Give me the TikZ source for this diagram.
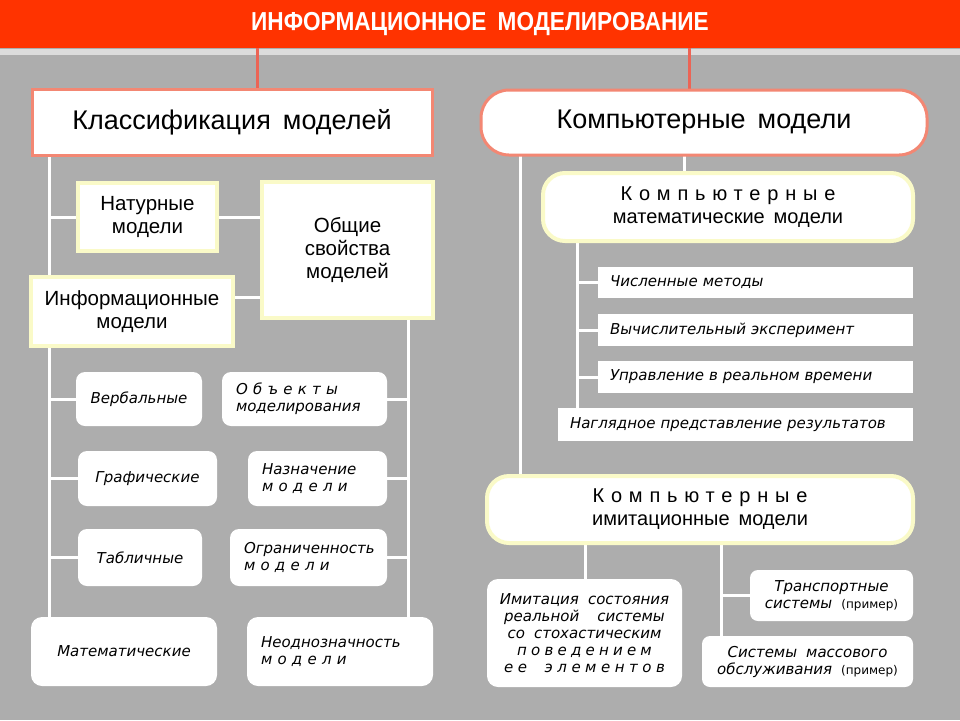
\documentclass[tikz,border=0pt]{standalone}
\usepackage{fontspec}
\setmainfont{Liberation Sans}[WordSpace=1.6]
\newfontfamily\gothic{DejaVu Sans}[WordSpace=1.9]
\newfontfamily\titlefont{Liberation Sans}[FakeStretch=0.87, WordSpace=1.8]
\usepackage{tikz}
\usetikzlibrary{positioning,backgrounds}
\definecolor{bggray}{RGB}{173,173,173}
\definecolor{bandred}{RGB}{255,51,0}
\definecolor{stripgray}{RGB}{220,220,220}
\definecolor{salmon}{RGB}{243,135,115}
\definecolor{redline}{RGB}{236,100,85}
\definecolor{cream}{RGB}{250,250,200}
\newcommand{\spaced}[2][35]{{\addfontfeature{LetterSpace=#1}#2}}
\newcommand{\ital}{\gothic\itshape\fontsize{15}{17}\selectfont}
\newcommand{\example}{{\upshape\fontsize{12}{14}\selectfont(пример)}}

\begin{document}
\begin{tikzpicture}[x=1pt, y=-1pt, every node/.style={anchor=north west, inner sep=0pt, outer sep=0pt}]
  \tikzstyle{salmonbox}=[draw=salmon, line width=3pt, fill=white, font=\fontsize{27}{30}\selectfont]
  \tikzstyle{creambox}=[draw=cream, line width=4pt, fill=white, align=center, font=\fontsize{20.5}{23}\selectfont]
  \tikzstyle{roundbox}=[fill=white, rounded corners=9pt, font=\ital, align=center]
  \tikzstyle{leftbox}=[roundbox, align=left, inner xsep=14pt]
  \tikzstyle{stripbox}=[fill=white, font=\ital, align=left, inner xsep=12pt]
  \tikzstyle{wire}=[draw=white, line width=3pt]
  \tikzstyle{redwire}=[draw=redline, line width=3pt]
  \useasboundingbox (0,0) rectangle (960,720);
  \node[fill=bandred, minimum width=960, minimum height=48, text=white, font=\titlefont\bfseries\fontsize{26}{28}\selectfont] (band) at (0,0) {ИНФОРМАЦИОННОЕ МОДЕЛИРОВАНИЕ};
  \node[salmonbox, minimum width=400, minimum height=66] (klass) at (32,89) {Классификация моделей};
  \node[salmonbox, rounded corners=28pt, minimum width=446, minimum height=65] (komp) at (481,90) {Компьютерные модели};
  % left column
  \node[creambox, minimum width=139, minimum height=68] (nat) at (78,183) {Натурные\\модели};
  \node[creambox, minimum width=171, minimum height=136] (obsh) at (262,182) {Общие\\свойства\\моделей};
  \node[creambox, minimum width=202, minimum height=69] (inf) at (31,277) {Информационные\\модели};
  \node[roundbox, minimum width=126, minimum height=54] (verb) at (76,372) {Вербальные};
  \node[roundbox, minimum width=139, minimum height=55] (graf) at (78,451) {Графические};
  \node[roundbox, minimum width=124, minimum height=57] (tab) at (78,529) {Табличные};
  \node[roundbox, rounded corners=11pt, minimum width=186, minimum height=69] (mat) at (31,617) {Математические};
  \node[leftbox, text width=137, minimum height=54] (obj) at (222,372) {\spaced{Объекты}\\моделирования};
  \node[leftbox, text width=111, minimum height=55] (naz) at (248,451) {Назначение\\\spaced{модели}};
  \node[leftbox, text width=129, minimum height=57] (ogr) at (230,529) {Ограниченность\\\spaced{модели}};
  \node[leftbox, rounded corners=11pt, text width=158, minimum height=69] (neod) at (247,617) {Неоднозначность\\\spaced{модели}};
  % right column
  \node[creambox, rounded corners=22pt, minimum width=370, minimum height=68, font=\fontsize{20}{23}\selectfont] (kmm) at (543,173) {\spaced[34]{Компьютерные}\\математические модели};
  \node[stripbox, text width=291, minimum height=31] (chisl) at (598,267) {Численные методы};
  \node[stripbox, text width=291, minimum height=32] (vych) at (598,314) {Вычислительный эксперимент};
  \node[stripbox, text width=291, minimum height=32] (upr) at (598,361) {Управление в реальном времени};
  \node[stripbox, text width=331, minimum height=33] (nagl) at (558,408) {Наглядное представление результатов};
  \node[creambox, rounded corners=22pt, minimum width=426, minimum height=67, font=\fontsize{20}{23}\selectfont] (kim) at (487,476) {\spaced[34]{Компьютерные}\\имитационные модели};
  \node[roundbox, rounded corners=11pt, minimum width=195, minimum height=108] (imit) at (487,579) {Имитация состояния\\реальной \ системы\\со стохастическим\\\spaced[28]{поведением}\\\spaced[30]{ее элементов}};
  \node[roundbox, rounded corners=8pt, minimum width=163, minimum height=51] (trans) at (750,570) {Транспортные\\системы \example};
  \node[roundbox, rounded corners=8pt, minimum width=211, minimum height=51] (smo) at (702,636) {Системы массового\\обслуживания \example};
  \coordinate (lred) at (257,0);
  \coordinate (rred) at (689,0);
  \coordinate (ltrunk) at (49,0);
  \coordinate (rtrunk) at (408,0);
  \coordinate (infstub) at ([yshift=14pt]inf.east);
  \coordinate (kstem) at (684,0);
  \coordinate (otrunk) at (520,0);
  \coordinate (itrunk) at (577,0);
  \coordinate (istem) at (585,0);
  \coordinate (sstem) at (721,0);
  \begin{scope}[on background layer]
    \fill[bggray] (0,0) rectangle (960,720);
    \fill[stripgray] (0,49) rectangle (960,55);
    \draw[redwire] (band.south -| lred) -- (klass.north -| lred);
    \draw[redwire] (band.south -| rred) -- (komp.north -| rred);
    \draw[wire] (klass.south -| ltrunk) -- (mat.north -| ltrunk);
    \draw[wire] (obsh.south -| rtrunk) -- (neod.north -| rtrunk);
    \draw[wire] (nat.west) -- (nat.west -| ltrunk);
    \draw[wire] (nat.east) -- (nat.east -| obsh.west);
    \draw[wire] (infstub) -- (infstub -| obsh.west);
    \foreach \b in {verb, graf, tab} \draw[wire] (\b.west) -- (\b.west -| ltrunk);
    \foreach \b in {obj, naz, ogr} \draw[wire] (\b.east) -- (\b.east -| rtrunk);
    \draw[wire] (komp.south -| kstem) -- (kmm.north -| kstem);
    \draw[wire] (komp.south -| otrunk) -- (kim.north -| otrunk);
    \draw[wire] (kmm.south -| itrunk) -- (nagl.north -| itrunk);
    \foreach \b in {chisl, vych, upr} \draw[wire] (\b.west) -- (\b.west -| itrunk);
    \draw[wire] (kim.south -| istem) -- (imit.north -| istem);
    \draw[wire] (kim.south -| sstem) -- (smo.north -| sstem);
    \draw[wire] (trans.west) -- (trans.west -| sstem);
  \end{scope}
\end{tikzpicture}
\end{document}
